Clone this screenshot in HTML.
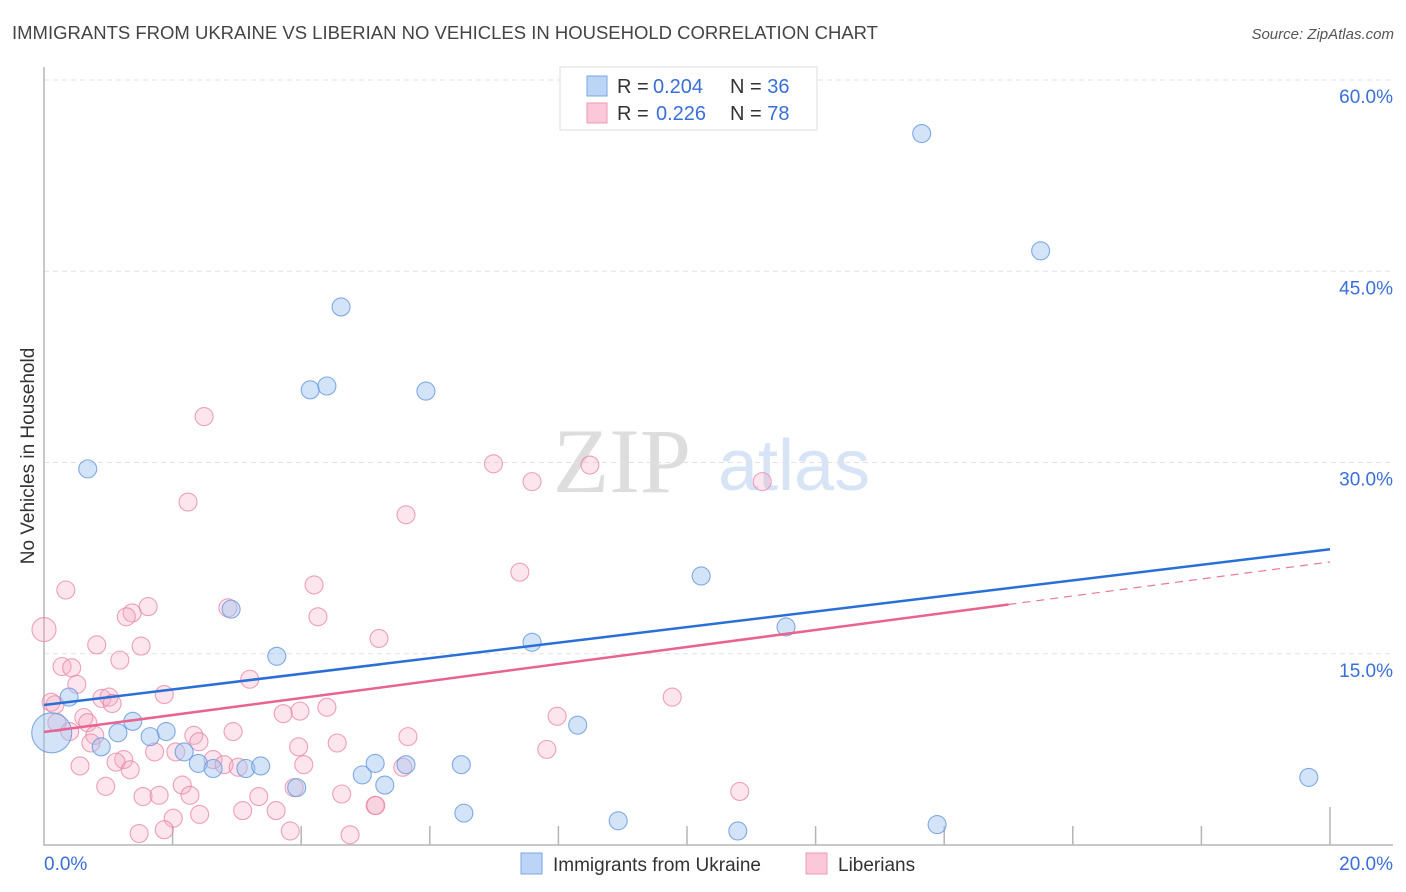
<!DOCTYPE html>
<html><head><meta charset="utf-8"><style>
body{margin:0;background:#fff;font-family:"Liberation Sans",sans-serif}
svg{display:block}
</style></head><body>
<svg id="c" width="1406" height="892" xmlns="http://www.w3.org/2000/svg">
<text x="12" y="39" font-size="18" fill="#444" textLength="866" lengthAdjust="spacingAndGlyphs">IMMIGRANTS FROM UKRAINE VS LIBERIAN NO VEHICLES IN HOUSEHOLD CORRELATION CHART</text>
<text x="1394" y="39" font-size="15" fill="#555" font-style="italic" text-anchor="end">Source: ZipAtlas.com</text>
<g>
<text x="553" y="492" font-family="Liberation Serif,serif" font-size="92" fill="#ddd">ZIP</text>
<text x="718" y="490" font-size="72" fill="#d6e4f6">atlas</text>
</g>
<g id="grid"></g>
<text x="34" y="456" font-size="19" fill="#333" text-anchor="middle" transform="rotate(-90 34 456)">No Vehicles in Household</text>
<g id="pts"></g>
<g id="lines"></g>
<g>
<rect x="560" y="67" width="257" height="63" fill="#fff" stroke="#ddd"/>
<rect x="587" y="76" width="20" height="20" fill="#bcd4f5" stroke="#7aa6e6"/>
<rect x="587" y="103" width="20" height="20" fill="#fac8d8" stroke="#ee9ab5"/>
<text x="617" y="93" font-size="20" fill="#333">R = <tspan fill="#3a6fd8" x="653">0.204</tspan><tspan x="730">N = </tspan><tspan fill="#3a6fd8">36</tspan></text>
<text x="617" y="120" font-size="20" fill="#333">R = <tspan fill="#3a6fd8" x="656">0.226</tspan><tspan x="730">N = </tspan><tspan fill="#3a6fd8">78</tspan></text>
</g>
<g>
<rect x="521" y="853" width="21" height="21" fill="#bcd4f5" stroke="#7aa6e6"/>
<text x="553" y="871" font-size="19" fill="#333">Immigrants from Ukraine</text>
<rect x="806" y="853" width="21" height="21" fill="#fac8d8" stroke="#ee9ab5"/>
<text x="838" y="871" font-size="19" fill="#333">Liberians</text>
</g>
</svg>
<script>
const yTicks=[15,30,45,60];
const yTickLabels=["15.0%","30.0%","45.0%","60.0%"];
const xTickLabels=["0.0%","20.0%"];
const ukraineX=[13.65,15.5,4.62,4.14,4.4,5.94,0.68,10.22,11.54,7.59,2.91,3.62,0.39,0.12,1.38,1.15,1.9,1.65,0.89,2.18,2.4,2.63,3.14,3.37,3.93,4.95,5.15,5.3,5.63,6.49,8.3,6.53,8.93,10.79,13.89,19.67];
const ukraineY=[55.8,46.6,42.2,35.7,36.0,35.6,29.5,21.1,17.1,15.9,18.5,14.8,11.6,8.8,9.7,8.8,8.9,8.5,7.7,7.3,6.4,6.0,6.0,6.2,4.5,5.5,6.4,4.7,6.3,6.3,9.4,2.5,1.9,1.1,1.6,5.3];
const liberianX=[2.49,2.24,6.99,8.49,7.59,11.17,5.63,7.4,4.2,0.34,1.62,1.37,1.28,2.86,4.26,0,0.82,1.51,5.21,1.18,0.28,0.43,0.51,3.2,1.87,9.77,0.11,0.17,0.9,1.01,1.06,3.98,4.4,3.72,7.98,0.62,0.68,0.2,0.4,0.79,2.94,2.33,5.66,0.73,2.41,4.56,3.96,7.82,1.72,2.05,1.24,1.12,2.63,2.8,3.02,4.04,0.56,1.34,5.58,0.96,2.15,3.89,10.82,1.54,1.79,2.27,3.34,4.63,5.15,5.16,3.09,3.61,2.01,2.42,1.87,1.48,3.83,4.76];
const liberianY=[33.6,26.9,29.9,29.8,28.5,28.5,25.9,21.4,20.4,20.0,18.7,18.2,17.9,18.6,17.9,16.9,15.7,15.6,16.2,14.5,14.0,13.9,12.6,13.0,11.8,11.6,11.2,11.0,11.5,11.6,11.1,10.5,10.8,10.3,10.1,10.0,9.6,9.6,8.9,8.6,8.9,8.6,8.5,8.0,8.1,8.0,7.7,7.5,7.3,7.3,6.7,6.5,6.7,6.3,6.1,6.3,6.2,5.9,6.1,4.6,4.7,4.5,4.2,3.8,3.9,3.9,3.8,4.0,3.1,3.1,2.7,2.7,2.1,2.4,1.2,0.9,1.1,0.8];
const ukraineFit=[10.98,23.2];
const liberianFit=[8.86,22.2];
const liberianSolidEnd=15;
const X0=44,X1=1330,Y0=845,PY=12.75;
const sx=v=>X0+(v/20)*(X1-X0), sy=v=>Y0-v*PY;
const NS="http://www.w3.org/2000/svg";
function mk(t,a,p){const e=document.createElementNS(NS,t);for(const k in a)e.setAttribute(k,a[k]);p.appendChild(e);return e;}
const g=document.getElementById('grid');
yTicks.forEach((v,i)=>{
 const l=mk('line',{x1:X0,x2:1393,y1:sy(v),y2:sy(v),stroke:'#e2e2e2','stroke-dasharray':'5,4'},g);
 
 
 const t=mk('text',{x:1393,y:sy(v)+23,'font-size':19,fill:'#3a6fd8','text-anchor':'end'},g);
 t.textContent=yTickLabels[i];
 
 
});
const ax=mk('path',{d:`M${X0} 67 V${Y0} H1393`,stroke:'#b5b5b5','stroke-width':1.5,fill:'none'},g);


for(let i=1;i<=10;i++){
 const x=sx(i*2);
 const t=mk('line',{x1:x,x2:x,y1:i==10?807:826,y2:Y0,stroke:'#b5b5b5','stroke-width':1.5},g);
 
 
}
[[0,'start',X0],[1,'end',1393]].forEach(([i,a,x])=>{
 const t=mk('text',{x:x,y:870,'font-size':19,fill:'#3a6fd8','text-anchor':a},g);
 t.textContent=xTickLabels[i];
 
 
});
const P=document.getElementById('pts');
liberianX.forEach((v,i)=>{
 const c=mk('circle',{cx:sx(v),cy:sy(liberianY[i]),r:v===0?12:9,fill:'rgba(246,170,196,0.3)',stroke:'rgba(232,130,165,0.75)','stroke-width':1.1},P);
 
 
});
ukraineX.forEach((v,i)=>{
 const c=mk('circle',{cx:sx(v),cy:sy(ukraineY[i]),r:i==13?20:9,fill:'rgba(160,196,240,0.45)',stroke:'rgba(100,150,222,0.8)','stroke-width':1.1},P);
 
 
});
const L=document.getElementById('lines');
const lf=v=>liberianFit[0]+(liberianFit[1]-liberianFit[0])*v/20;
const d1=mk('line',{x1:sx(liberianSolidEnd),y1:sy(lf(liberianSolidEnd)),x2:sx(20),y2:sy(liberianFit[1]),stroke:'#e8769c','stroke-width':1.2,'stroke-dasharray':'8,6'},L);


const l2=mk('line',{x1:sx(0),y1:sy(liberianFit[0]),x2:sx(liberianSolidEnd),y2:sy(lf(liberianSolidEnd)),stroke:'#e8638f','stroke-width':2.5},L);


const l1=mk('line',{x1:sx(0),y1:sy(ukraineFit[0]),x2:sx(20),y2:sy(ukraineFit[1]),stroke:'#2a6fd6','stroke-width':2.5},L);


</script>
</body></html>
